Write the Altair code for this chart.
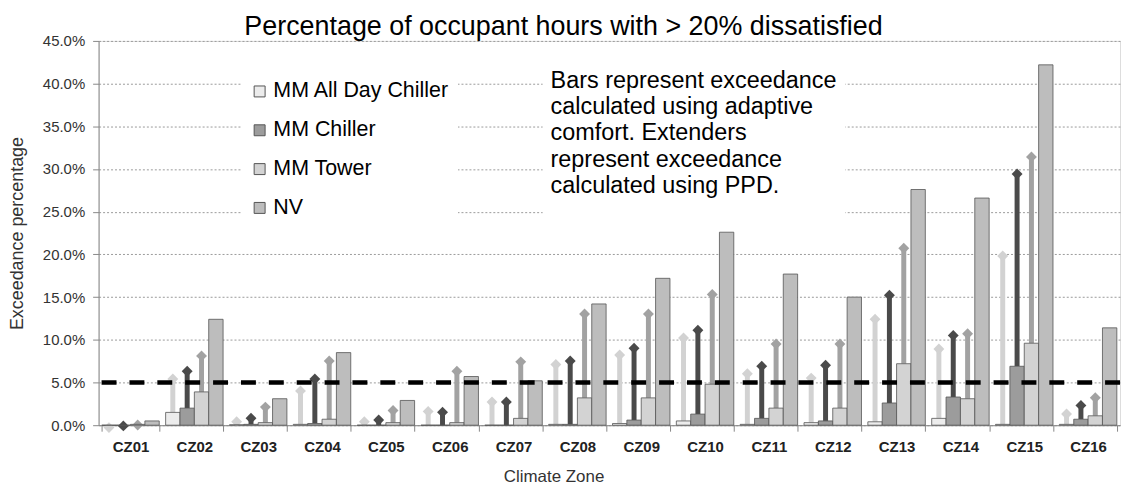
import altair as alt
import pandas as pd

zones = ["CZ01", "CZ02", "CZ03", "CZ04", "CZ05", "CZ06", "CZ07", "CZ08",
         "CZ09", "CZ10", "CZ11", "CZ12", "CZ13", "CZ14", "CZ15", "CZ16"]
series_names = ["MM All Day Chiller", "MM Chiller", "MM Tower", "NV"]

# Bars: exceedance (%) using adaptive comfort
bar_allday = [0.0, 1.5, 0.05, 0.1, 0.0, 0.0, 0.0, 0.1, 0.2, 0.5, 0.1, 0.3, 0.4, 0.8, 0.1, 0.1]
bar_chiller = [0.0, 2.0, 0.1, 0.2, 0.0, 0.0, 0.0, 0.1, 0.6, 1.3, 0.8, 0.5, 2.6, 3.3, 6.9, 0.7]
bar_tower = [0.1, 3.9, 0.3, 0.7, 0.3, 0.3, 0.8, 3.2, 3.2, 4.8, 2.0, 2.0, 7.2, 3.1, 9.6, 1.1]
bar_nv = [0.5, 12.4, 3.1, 8.5, 2.9, 5.7, 5.2, 14.2, 17.2, 22.6, 17.7, 15.0, 27.6, 26.6, 42.2, 11.4]

# Extenders: exceedance (%) using PPD
ppd_allday = [0.3, 6.0, 1.0, 4.6, 1.0, 2.2, 3.3, 7.7, 8.8, 10.8, 6.6, 6.1, 13.0, 9.5, 20.4, 1.9]
ppd_chiller = [0.5, 6.9, 1.4, 6.0, 1.2, 2.1, 3.3, 8.1, 9.6, 11.7, 7.5, 7.6, 15.8, 11.1, 30.0, 2.9]
ppd_tower = [0.6, 8.7, 2.7, 8.1, 2.3, 6.9, 8.0, 13.6, 13.6, 15.9, 10.1, 10.1, 21.3, 11.3, 32.0, 3.8]

y_ticks = [0.0, 0.05, 0.10, 0.15, 0.20, 0.25, 0.30, 0.35, 0.40, 0.45]
threshold = [0.05]
note_lines = ["Bars represent exceedance", "calculated using adaptive",
              "comfort. Extenders", "represent exceedance", "calculated using PPD."]
title_text = "Percentage of occupant hours with > 20% dissatisfied"

bar_fills = ["#ececec", "#9c9c9c", "#d3d3d3", "#bdbdbd"]
ext_colors = ["#d2d2d2", "#4a4a4a", "#a2a2a2"]
FONT = "Liberation Sans"

bar_series = [bar_allday, bar_chiller, bar_tower, bar_nv]
ppd_series = [ppd_allday, ppd_chiller, ppd_tower]

bar_rows = []
for i, z in enumerate(zones):
    for s, vals in zip(series_names, bar_series):
        bar_rows.append({"zone": z, "series": s, "value": vals[i] / 100})
bars_df = pd.DataFrame(bar_rows)

ext_rows = []
for i, z in enumerate(zones):
    for s, bvals, pvals in zip(series_names[:3], bar_series[:3], ppd_series):
        ext_rows.append({"zone": z, "series": s, "bar": bvals[i] / 100, "ppd": pvals[i] / 100})
ext_df = pd.DataFrame(ext_rows)

thr_df = pd.DataFrame({"level": threshold, "note": ["note"]})

x_axis = alt.Axis(
    labelFont=FONT, labelFontSize=15, labelFontWeight="bold", labelColor="#222",
    labelPadding=8, labelAngle=0, tickBand="extent", tickSize=6, tickColor="#888",
    domainColor="#888", grid=False,
    titleFont=FONT, titleFontSize=17, titleFontWeight="normal", titleColor="#333",
    titleX=457, titleY=52, titleBaseline="middle",
)
y_axis = alt.Axis(
    values=y_ticks, format=".1%",
    labelFont=FONT, labelFontSize=15, labelColor="#333", labelPadding=8,
    tickSize=6, tickColor="#888", domainColor="#888",
    grid=True, gridColor="#9a9a9a", gridDash=[2, 2], gridWidth=1,
    titleFont=FONT, titleFontSize=18, titleFontWeight="normal", titleColor="#333",
    titleX=-81, titleY=193, titleBaseline="middle",
)

x_enc = alt.X("zone:N", sort=zones, title="Climate Zone",
              scale=alt.Scale(paddingInner=0.1, paddingOuter=0.05), axis=x_axis)
xo_enc = alt.XOffset("series:N", sort=series_names,
                     scale=alt.Scale(domain=series_names, paddingInner=0, paddingOuter=0))
y_scale = alt.Scale(domain=[0, 0.45], nice=False)

ext_color = alt.Color("series:N", scale=alt.Scale(domain=series_names[:3], range=ext_colors),
                      legend=None)

rules = alt.Chart(ext_df).mark_rule(strokeWidth=5, y2Offset=5).encode(
    x=x_enc, xOffset=xo_enc,
    y=alt.Y("bar:Q", scale=y_scale, axis=y_axis, title="Exceedance percentage"),
    y2="ppd:Q",
    color=ext_color,
)

heads = alt.Chart(ext_df).mark_point(shape="diamond", filled=True, size=120, opacity=1,
                                     yOffset=5).encode(
    x=x_enc, xOffset=xo_enc,
    y=alt.Y("ppd:Q", scale=y_scale, axis=y_axis, title="Exceedance percentage"),
    color=ext_color,
)

bars = alt.Chart(bars_df).mark_bar(stroke="#555", strokeWidth=0.8).encode(
    x=x_enc, xOffset=xo_enc,
    y=alt.Y("value:Q", scale=y_scale, axis=y_axis, title="Exceedance percentage"),
    fill=alt.Fill("series:N", sort=series_names,
                  scale=alt.Scale(domain=series_names, range=bar_fills),
                  legend=alt.Legend(
                      title=None, orient="none", legendX=143, legendY=32,
                      fillColor="white", padding=8, symbolType="square", symbolSize=121,
                      symbolStrokeColor="#555", symbolStrokeWidth=1,
                      labelFont=FONT, labelFontSize=21.5, labelColor="black",
                      labelLimit=400, labelOffset=3, rowPadding=16,
                  )),
)

thresh = alt.Chart(thr_df).mark_rule(color="black", strokeWidth=4.5).encode(
    y=alt.Y("level:Q", scale=y_scale, axis=y_axis, title="Exceedance percentage"),
    strokeDash=alt.StrokeDash(
        "note:N", scale=alt.Scale(range=[[15, 13]]),
        legend=alt.Legend(
            title=note_lines, orient="none", legendX=446, legendY=20,
            fillColor="white", padding=8,
            titleFont=FONT, titleFontSize=23.5, titleFontWeight="normal",
            titleColor="black", titleLineHeight=26.5, titleLimit=600, titlePadding=2,
            labelExpr="''", labelFontSize=8, symbolOpacity=0, symbolStrokeWidth=0,
            symbolSize=1,
        )),
)

chart = alt.layer(rules, heads, bars, thresh).properties(
    width=1026, height=386,
    padding={"left": 1, "top": 4, "right": 2, "bottom": 0},
    title=alt.TitleParams(text=title_text, font=FONT, fontSize=27, fontWeight="normal",
                          color="black", anchor="middle", offset=-7, dx=-46),
).configure_view(stroke="#cfcfcf", strokeWidth=1).configure(background="white")

chart.save("out.html", embed_options={"renderer": "svg", "actions": False})
